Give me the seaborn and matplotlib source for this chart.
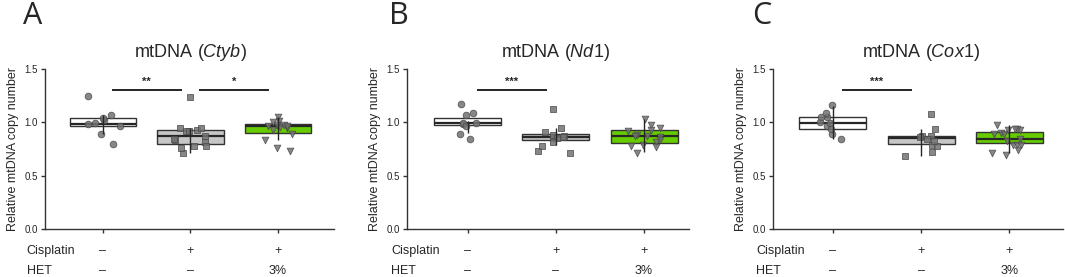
import numpy as np
import pandas as pd
import matplotlib
matplotlib.use("Agg")
import matplotlib.pyplot as plt
import matplotlib.transforms as mtransforms
import seaborn as sns

# Grupos y etiquetas
grupos = ["ctrl", "cis", "cis_het"]
cisplatin_labels = ["\u2013", "+", "+"]
het_labels = ["\u2013", "\u2013", "3%"]

# Panel A: Ctyb
ctyb_ctrl = [1.244, 0.795, 0.895, 1.066, 0.964, 1.02, 1.045, 0.98, 0.99]
ctyb_cis = [1.238, 0.932, 0.948, 0.92, 0.839, 0.711, 0.817, 0.951, 0.92, 0.873, 0.842, 0.776, 0.776, 0.755]
ctyb_het = [0.957, 0.886, 0.833, 1.01, 0.948, 0.973, 0.764, 0.966, 1.05, 1.004, 0.973, 0.926, 0.73, 0.966]
ctyb_box_lo = [0.961, 0.798, 0.900]
ctyb_box_hi = [1.042, 0.932, 0.989]
ctyb_linea = [0.985, 0.873, 0.966]
ctyb_err_lo = [0.895, 0.714, 0.833]
ctyb_err_hi = [1.066, 0.948, 1.050]
ctyb_sig = [(0, 1, "**"), (1, 2, "*")]

# Panel B: Nd1
nd1_ctrl = [1.169, 0.848, 0.895, 1.066, 0.989, 1.091, 0.998, 0.964, 0.99]
nd1_cis = [1.123, 0.717, 0.91, 0.873, 0.854, 0.879, 0.951, 0.854, 0.817, 0.732, 0.779, 0.864]
nd1_het = [1.035, 0.973, 0.951, 0.932, 0.917, 0.879, 0.87, 0.87, 0.858, 0.833, 0.817, 0.786, 0.77, 0.776, 0.708]
nd1_box_lo = [0.973, 0.830, 0.807]
nd1_box_hi = [1.045, 0.889, 0.926]
nd1_linea = [0.992, 0.858, 0.870]
nd1_err_lo = [0.900, 0.786, 0.723]
nd1_err_hi = [1.013, 0.948, 1.035]
nd1_sig = [(0, 1, "***")]

# Panel C: Cox1
cox1_ctrl = [1.16, 0.842, 0.886, 1.004, 0.964, 1.05, 1.091, 1.05, 0.998, 0.935]
cox1_cis = [1.082, 0.723, 0.873, 0.858, 0.873, 0.935, 0.848, 0.792, 0.779, 0.686, 0.823]
cox1_het = [0.901, 0.932, 0.926, 0.942, 0.973, 0.942, 0.895, 0.886, 0.848, 0.823, 0.792, 0.786, 0.786,
            0.739, 0.714, 0.692]
cox1_box_lo = [0.942, 0.795, 0.802]
cox1_box_hi = [1.050, 0.873, 0.910]
cox1_linea = [0.998, 0.854, 0.848]
cox1_err_lo = [0.848, 0.686, 0.708]
cox1_err_hi = [1.153, 0.935, 0.973]
cox1_sig = [(0, 1, "***")]

# Estilo
sns.set_style("ticks")
plt.rcParams["font.family"] = ["Liberation Sans", "DejaVu Sans"]
plt.rcParams["mathtext.fontset"] = "custom"
plt.rcParams["mathtext.rm"] = "Liberation Sans"
plt.rcParams["mathtext.it"] = "Liberation Sans:italic"

box_colores = ["#ffffff", "#c6c6c6", "#66cc00"]
marcadores = ["o", "s", "v"]
oscuro = "#333333"

np.random.seed(7)

fig = plt.figure(figsize=(10.65, 2.77), dpi=100)


def panel(rect, xlim, letra, letra_x, titulo, valores, box_lo, box_hi, linea, err_lo, err_hi, sig):
    ax = fig.add_axes(rect)
    df = pd.DataFrame({
        "grupo": np.repeat(grupos, [len(v) for v in valores]),
        "valor": np.concatenate(valores),
    })
    # Puntos individuales
    for i, g in enumerate(grupos):
        sns.stripplot(data=df[df["grupo"] == g], x="grupo", y="valor", order=grupos, ax=ax,
                      marker=marcadores[i], jitter=0.2, size=4.8, color="#727272",
                      edgecolor="#4a4a4a", linewidth=0.6, alpha=0.85, zorder=3)
    # Cajas flotantes, línea central y barra vertical
    for i in range(len(grupos)):
        ax.bar(i, box_hi[i] - box_lo[i], bottom=box_lo[i], width=0.76, color=box_colores[i],
               edgecolor=oscuro, linewidth=1.0, zorder=1)
        ax.hlines(linea[i], i - 0.38, i + 0.38, color="#262626", lw=1.6, zorder=2)
        ax.vlines(i, err_lo[i], err_hi[i], color="#262626", lw=1.0, zorder=4)
    # Significancia
    for a, b, estrellas in sig:
        ax.hlines(1.30, a + 0.1, b - 0.1, color="black", lw=1.2, zorder=5)
        ax.text((a + b) / 2, 1.335, estrellas, ha="center", va="bottom", fontsize=8,
                fontweight="bold")

    ax.set_xlim(*xlim)
    ax.set_ylim(0, 1.5)
    ax.set_yticks([0, 0.5, 1.0, 1.5])
    ax.set_yticklabels(["0.0", "0.5", "1.0", "1.5"])
    ax.set_xlabel("")
    ax.set_ylabel("Relative mtDNA copy number", fontsize=9, labelpad=4)
    ax.tick_params(axis="x", length=3, width=1, color=oscuro, labelbottom=False)
    ax.tick_params(axis="y", length=3, width=1, color=oscuro, labelsize=7, pad=2)
    sns.despine(ax=ax)
    for s in ["left", "bottom"]:
        ax.spines[s].set_color(oscuro)
        ax.spines[s].set_linewidth(1.0)

    trans = mtransforms.blended_transform_factory(ax.transData, ax.transAxes)
    ax.text(1, 1.106, titulo, transform=trans, ha="center", va="center", fontsize=13)
    ax.text(-0.87, -0.1375, "Cisplatin", transform=trans, ha="left", va="center", fontsize=9)
    ax.text(-0.87, -0.2625, "HET", transform=trans, ha="left", va="center", fontsize=9)
    for i in range(len(grupos)):
        ax.text(i, -0.1375, cisplatin_labels[i], transform=trans, ha="center", va="center", fontsize=9)
        ax.text(i, -0.2625, het_labels[i], transform=trans, ha="center", va="center", fontsize=9)

    fig.text(letra_x, 1 - 16 / 277, letra, ha="center", va="center", fontsize=22,
             family=["Open Sans", "DejaVu Sans"])
    return ax


bottom, height = 0.1733, 0.5776
panel([45 / 1065, bottom, 289 / 1065, height], (-0.66, 2.64), "A", 33 / 1065,
      r"mtDNA ($\mathit{Ctyb}$)", [ctyb_ctrl, ctyb_cis, ctyb_het],
      ctyb_box_lo, ctyb_box_hi, ctyb_linea, ctyb_err_lo, ctyb_err_hi, ctyb_sig)
panel([407 / 1065, bottom, 282 / 1065, height], (-0.69, 2.51), "B", 399 / 1065,
      r"mtDNA ($\mathit{Nd1}$)", [nd1_ctrl, nd1_cis, nd1_het],
      nd1_box_lo, nd1_box_hi, nd1_linea, nd1_err_lo, nd1_err_hi, nd1_sig)
panel([773 / 1065, bottom, 290 / 1065, height], (-0.68, 2.61), "C", 762 / 1065,
      r"mtDNA ($\mathit{Cox1}$)", [cox1_ctrl, cox1_cis, cox1_het],
      cox1_box_lo, cox1_box_hi, cox1_linea, cox1_err_lo, cox1_err_hi, cox1_sig)

fig.savefig("out.png", dpi=100)
